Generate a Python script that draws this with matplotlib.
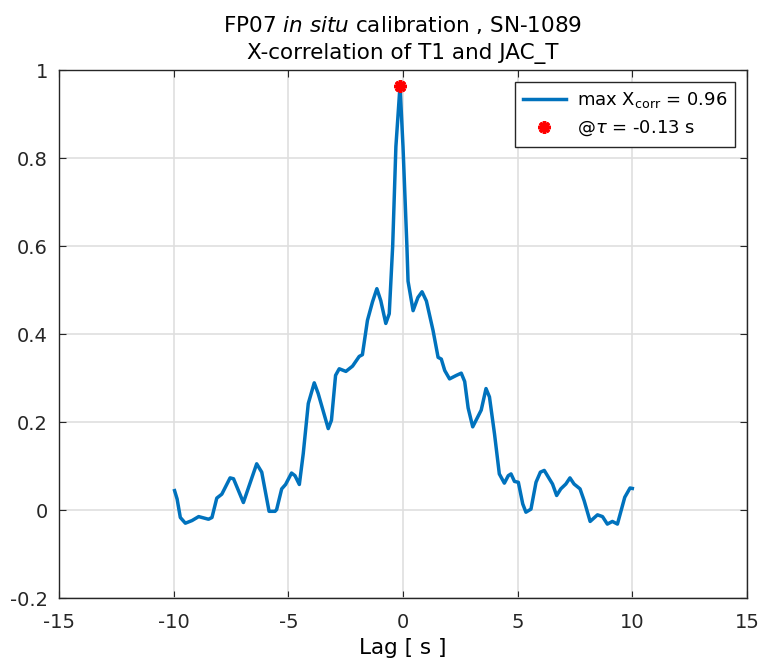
import numpy as np
import matplotlib
matplotlib.use("Agg")
import matplotlib.pyplot as plt
from matplotlib.ticker import FormatStrFormatter

plt.rcParams['font.family'] = ['DejaVu Sans']
plt.rcParams['mathtext.fontset'] = 'dejavusans'
plt.rcParams['axes.unicode_minus'] = False

# lag [s] and cross-correlation
lag = np.array([
    -9.96, -9.85, -9.71, -9.49, -9.20, -8.91, -8.48, -8.33, -8.12, -7.90,
    -7.54, -7.39, -6.96, -6.38, -6.16, -5.84, -5.58, -5.51, -5.29, -5.12,
    -4.86, -4.71, -4.52, -4.35, -4.13, -3.87, -3.70, -3.26, -3.12, -2.94,
    -2.78, -2.49, -2.20, -1.91, -1.77, -1.55, -1.33, -1.14, -0.97, -0.75,
    -0.60, -0.45, -0.31, -0.13, 0.00, 0.17, 0.22, 0.44, 0.65, 0.83,
    1.02, 1.31, 1.53, 1.67, 1.82, 2.03, 2.33, 2.54, 2.69, 2.84,
    3.04, 3.41, 3.62, 3.77, 3.99, 4.20, 4.42, 4.59, 4.71, 4.86,
    5.03, 5.22, 5.36, 5.58, 5.80, 5.99, 6.16, 6.38, 6.52, 6.70,
    6.88, 7.10, 7.28, 7.46, 7.72, 7.90, 8.16, 8.48, 8.70, 8.91,
    9.13, 9.35, 9.67, 9.90, 10.0])
xcorr = np.array([
    0.044, 0.025, -0.017, -0.030, -0.024, -0.015, -0.021, -0.017, 0.027, 0.036,
    0.073, 0.071, 0.017, 0.105, 0.086, -0.003, -0.003, 0.001, 0.048, 0.058,
    0.084, 0.078, 0.058, 0.128, 0.242, 0.289, 0.265, 0.185, 0.204, 0.306,
    0.321, 0.315, 0.327, 0.349, 0.353, 0.431, 0.473, 0.503, 0.476, 0.424,
    0.446, 0.600, 0.826, 0.964, 0.826, 0.600, 0.520, 0.453, 0.483, 0.496,
    0.475, 0.408, 0.347, 0.343, 0.317, 0.298, 0.306, 0.311, 0.292, 0.232,
    0.189, 0.227, 0.276, 0.257, 0.173, 0.082, 0.061, 0.078, 0.082, 0.065,
    0.063, 0.014, -0.005, 0.002, 0.063, 0.086, 0.090, 0.071, 0.059, 0.033,
    0.048, 0.059, 0.073, 0.059, 0.048, 0.021, -0.026, -0.011, -0.015, -0.032,
    -0.026, -0.032, 0.029, 0.050, 0.049])

i_max = np.argmax(xcorr)
max_corr = 0.96
tau_max = -0.13

fig = plt.figure(figsize=(7.61, 6.63), dpi=100)
ax = fig.add_axes([59/761, 1 - 598/663, 688/761, 528/663])

ax.plot(lag, xcorr, color='#0072BD', lw=2.5,
        label=r'max X$_{\rm corr}$ = %.2f' % max_corr)
ax.plot(lag[i_max], xcorr[i_max], ls='none', marker=(8, 2, 0), ms=9, mew=2.5,
        color='red', label=r'@$\tau$ = %.2f s' % tau_max)

ax.set_xlim(-15, 15)
ax.set_ylim(-0.2, 1)
ax.set_xticks(np.arange(-15, 16, 5))
ax.set_yticks(np.arange(-0.2, 1.01, 0.2))
ax.yaxis.set_major_formatter(FormatStrFormatter('%g'))
ax.grid(True, color='#dfdfdf', lw=1.2)
ax.set_axisbelow(True)
for s in ax.spines.values():
    s.set_color('#262626')
    s.set_linewidth(1.0)
ax.tick_params(direction='in', top=True, right=True, labelsize=14,
               colors='#262626', length=5)
ax.tick_params(axis='y', pad=8)
ax.tick_params(axis='x', pad=11)

ax.set_xlabel('Lag [ s ]', fontsize=15.5, labelpad=4)
ax.set_title('FP07 $\\it{in\\ situ}$ calibration , SN-1089\nX-correlation of T1 and JAC_T',
             fontsize=15.5, pad=8, linespacing=1.45)

leg = ax.legend(loc='upper right', fontsize=13, fancybox=False, framealpha=1,
                edgecolor='#262626', borderaxespad=0.65, handlelength=2.4,
                borderpad=0.45, labelspacing=0.5, handletextpad=0.6)
leg.get_frame().set_linewidth(1.0)

fig.savefig('out.png', dpi=100)
